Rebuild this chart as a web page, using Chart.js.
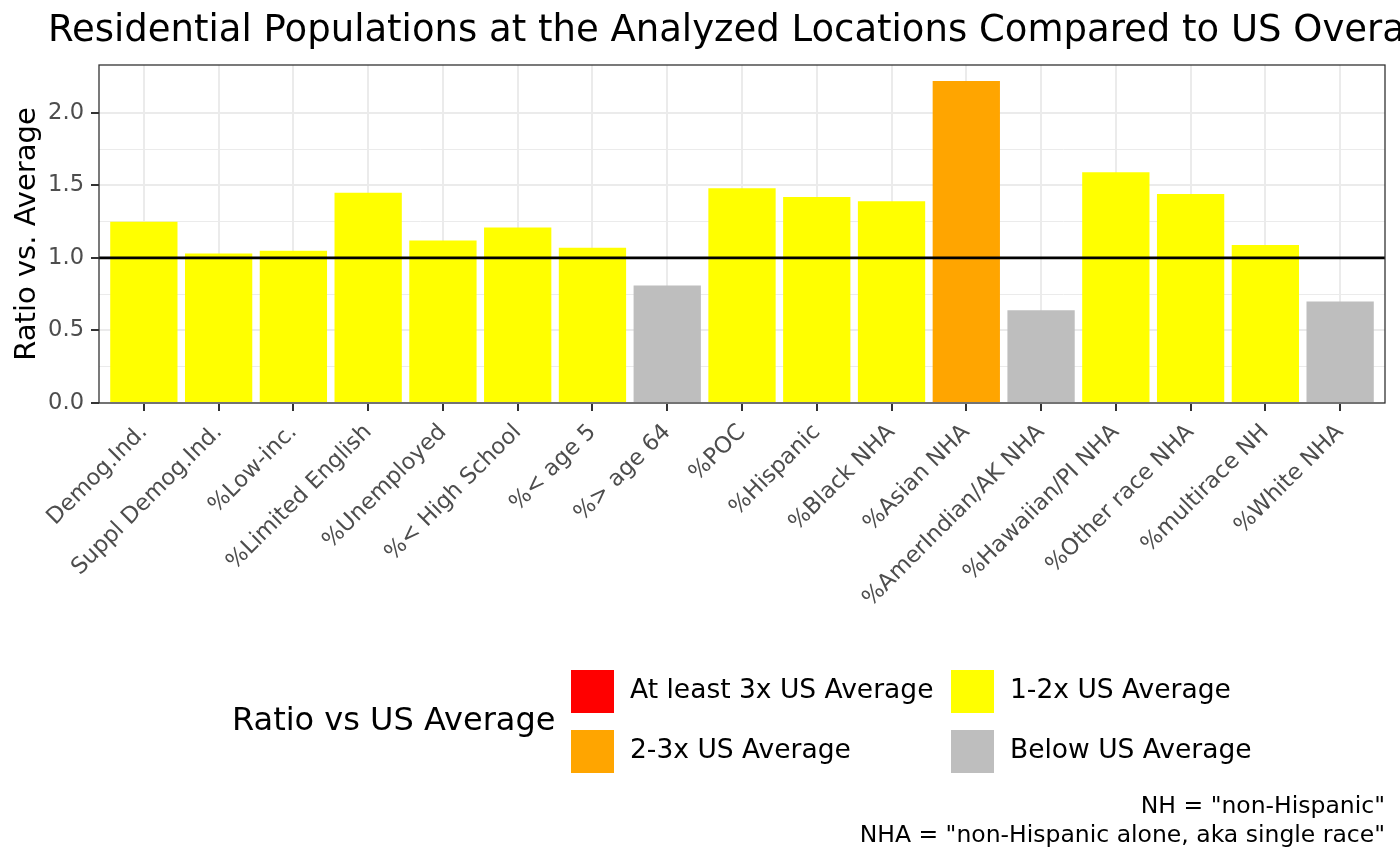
<!DOCTYPE html>
<html>
<head>
<meta charset="utf-8">
<script src="https://cdn.jsdelivr.net/npm/chart.js@4"></script>
<style>
  html, body { margin: 0; padding: 0; background: #fff; }
  #chart { display: block; }
</style>
</head>
<body>
<canvas id="chart" width="1400" height="866"></canvas>
<script>
// Categories and ratios
const categorias = ["Demog.Ind.", "Suppl Demog.Ind.", "%Low-inc.", "%Limited English", "%Unemployed",
    "%< High School", "%< age 5", "%> age 64", "%POC", "%Hispanic", "%Black NHA", "%Asian NHA",
    "%AmerIndian/AK NHA", "%Hawaiian/PI NHA", "%Other race NHA", "%multirace NH", "%White NHA"];
const ratios = [1.25, 1.03, 1.05, 1.45, 1.12, 1.21, 1.07, 0.81, 1.48, 1.42, 1.39, 2.22, 0.64, 1.59, 1.44, 1.09, 0.70];

// Legend groups
const grupos = ["At least 3x US Average", "2-3x US Average", "1-2x US Average", "Below US Average"];
const coloresGrupo = ["#ff0000", "#ffa500", "#ffff00", "#bebebe"];

const titulo = "Residential Populations at the Analyzed Locations Compared to US Overall";
const nota = ['NH = "non-Hispanic"', 'NHA = "non-Hispanic alone, aka single race"'];
const FONT = "'DejaVu Sans', sans-serif";

function colorPara(v) {
    if (v >= 3) return coloresGrupo[0];
    if (v >= 2) return coloresGrupo[1];
    if (v >= 1) return coloresGrupo[2];
    return coloresGrupo[3];
}

function esMayor(v) {
    return Math.abs(v * 2 - Math.round(v * 2)) < 1e-6;
}

// Title, reference line, panel border, legend and caption
const extras = {
    id: 'extras',
    afterDatasetsDraw(chart) {
        const ctx = chart.ctx;
        const a = chart.chartArea;
        const y1 = chart.scales.y.getPixelForValue(1);
        ctx.save();
        ctx.strokeStyle = '#000';
        ctx.lineWidth = 2.7;
        ctx.beginPath();
        ctx.moveTo(a.left, y1);
        ctx.lineTo(a.right, y1);
        ctx.stroke();
        ctx.strokeStyle = '#333';
        ctx.lineWidth = 1.3;
        ctx.strokeRect(a.left, a.top, a.right - a.left, a.bottom - a.top);
        ctx.restore();
    },
    afterDraw(chart) {
        const ctx = chart.ctx;
        ctx.save();
        ctx.fillStyle = '#000';
        ctx.textBaseline = 'alphabetic';
        ctx.textAlign = 'left';
        ctx.font = '37px ' + FONT;
        ctx.fillText(titulo, 48, 41);

        // legend
        ctx.font = '32px ' + FONT;
        ctx.textBaseline = 'middle';
        ctx.fillText('Ratio vs US Average', 232, 722);
        const orden = [[0, 571, 670], [1, 571, 730], [2, 951, 670], [3, 951, 730]];
        ctx.font = '26.5px ' + FONT;
        orden.forEach(([i, x, y]) => {
            ctx.fillStyle = coloresGrupo[i];
            ctx.fillRect(x, y, 43, 43);
            ctx.fillStyle = '#000';
            ctx.fillText(grupos[i], x + 59, y + 21.5);
        });

        // caption
        ctx.font = '23.5px ' + FONT;
        ctx.textAlign = 'right';
        ctx.fillText(nota[0], 1385, 807);
        ctx.fillText(nota[1], 1385, 836);
        ctx.restore();
    }
};

new Chart(document.getElementById('chart'), {
    type: 'bar',
    data: {
        datasets: [{
            data: ratios.map((v, i) => ({ x: i, y: v })),
            backgroundColor: ratios.map(colorPara),
            borderWidth: 0,
            categoryPercentage: 1,
            barPercentage: 0.9
        }]
    },
    options: {
        responsive: false,
        animation: false,
        devicePixelRatio: 1,
        layout: { padding: { left: 0, top: 65, right: 15, bottom: 0 } },
        plugins: {
            legend: { display: false },
            title: { display: false },
            tooltip: { enabled: false }
        },
        scales: {
            x: {
                type: 'linear',
                offset: false,
                min: -0.6,
                max: categorias.length - 0.4,
                afterBuildTicks(scale) {
                    scale.ticks = categorias.map((_, i) => ({ value: i }));
                },
                grid: {
                    offset: false,
                    color: '#ebebeb',
                    lineWidth: 2,
                    tickColor: '#333',
                    tickLength: 8,
                    tickWidth: 2
                },
                border: { display: false },
                ticks: {
                    autoSkip: false,
                    minRotation: 45,
                    maxRotation: 45,
                    padding: 8,
                    color: '#4d4d4d',
                    font: { family: FONT, size: 22.6 },
                    callback: v => categorias[v]
                },
                afterFit(scale) { scale.height = 463; }
            },
            y: {
                min: 0,
                max: 2.33,
                grid: {
                    color: '#ebebeb',
                    lineWidth: ctx => (esMayor(ctx.tick.value) ? 2 : 1),
                    tickColor: ctx => (esMayor(ctx.tick.value) ? '#333' : 'rgba(0,0,0,0)'),
                    tickLength: 8,
                    tickWidth: 2
                },
                border: { display: false },
                ticks: {
                    stepSize: 0.25,
                    padding: 7,
                    color: '#4d4d4d',
                    font: { family: FONT, size: 22.6 },
                    callback: v => (esMayor(v) ? v.toFixed(1) : '')
                },
                afterBuildTicks(scale) {
                    scale.ticks = scale.ticks.filter(t => Math.abs(t.value * 4 - Math.round(t.value * 4)) < 1e-6);
                },
                title: {
                    display: true,
                    text: 'Ratio vs. Average',
                    color: '#000',
                    font: { family: FONT, size: 29 },
                    padding: { top: 10, bottom: 0 }
                },
                afterFit(scale) { scale.width = 99; }
            }
        }
    },
    plugins: [extras]
});
</script>
</body>
</html>
